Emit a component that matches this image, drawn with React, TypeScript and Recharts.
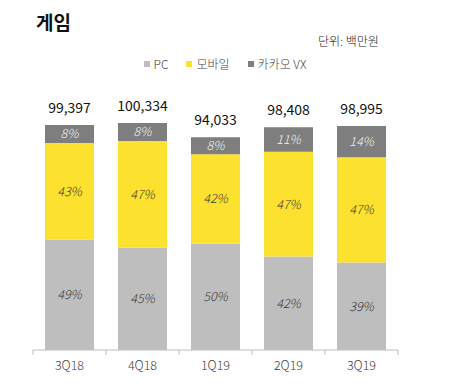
import React from 'react';
import { BarChart, Bar, XAxis, YAxis, LabelList } from 'recharts';

const quarters = ['3Q18', '4Q18', '1Q19', '2Q19', '3Q19'];
const totals = [99397, 100334, 94033, 98408, 98995];
const pcShare = [49, 45, 50, 42, 39];
const mobileShare = [43, 47, 42, 47, 47];
const vxShare = [8, 8, 8, 11, 14];

const seriesNames = ['PC', '모바일', '카카오 VX'];
const seriesColors = ['#BEBEBE', '#FDE12F', '#7E7E7E'];

const FONT = "'Noto Sans CJK KR', 'Noto Sans', sans-serif";

const data = quarters.map((q, i) => ({
  quarter: q,
  total: totals[i],
  pc: (totals[i] * pcShare[i]) / 100,
  mobile: (totals[i] * mobileShare[i]) / 100,
  vx: (totals[i] * vxShare[i]) / 100,
  pcPct: pcShare[i],
  mobilePct: mobileShare[i],
  vxPct: vxShare[i],
}));

const pctLabel = (v: unknown) => `${v}%`;

const CategoryTick = (props: any) => {
  const { x, y, payload, index } = props;
  const half = 36.5;
  return (
    <g>
      <line x1={x - half} y1={y - 8} x2={x - half} y2={y - 3} stroke="#BFBFBF" />
      {index === quarters.length - 1 && (
        <line x1={x + half} y1={y - 8} x2={x + half} y2={y - 3} stroke="#BFBFBF" />
      )}
      <text x={x} y={y + 12} textAnchor="middle" fill="#404040" fontSize={12.5} fontWeight={300} fontFamily={FONT}>
        {payload.value}
      </text>
    </g>
  );
};

export default function App() {
  return (
    <div style={{ position: 'absolute', left: 0, top: 0, width: 450, height: 387, background: '#fff', fontFamily: FONT }}>
      <div style={{ position: 'absolute', left: 36, top: 8, fontSize: 19, fontWeight: 700, color: '#111' }}>게임</div>
      <div style={{ position: 'absolute', left: 318, top: 32, fontSize: 12, fontWeight: 300, color: '#222' }}>단위: 백만원</div>
      <div style={{ position: 'absolute', left: 0, width: 450, top: 55, display: 'flex', justifyContent: 'center', gap: 18, fontSize: 12, fontWeight: 300, color: '#444' }}>
        {seriesNames.map((name, i) => (
          <div key={name} style={{ display: 'flex', alignItems: 'center' }}>
            <span style={{ display: 'inline-block', width: 6, height: 6, background: seriesColors[i], marginRight: 4 }} />
            <span>{name}</span>
          </div>
        ))}
      </div>
      <div style={{ position: 'absolute', left: 0, top: 0 }}>
        <BarChart width={450} height={387} data={data} margin={{ top: 101, right: 52, bottom: 7, left: 33 }} barSize={49}>
          <XAxis
            dataKey="quarter"
            stroke="#BFBFBF"
            tickLine={false}
            height={30}
            tick={<CategoryTick />}
          />
          <YAxis hide domain={[0, 110000]} />
          <Bar dataKey="pc" stackId="a" fill={seriesColors[0]} isAnimationActive={false}>
            <LabelList dataKey="pcPct" position="center" formatter={pctLabel} fill="#3A3A3A" fontSize={12.5} fontWeight={300} fontStyle="italic" fontFamily={FONT} />
          </Bar>
          <Bar dataKey="mobile" stackId="a" fill={seriesColors[1]} isAnimationActive={false}>
            <LabelList dataKey="mobilePct" position="center" formatter={pctLabel} fill="#3A3A3A" fontSize={12.5} fontWeight={300} fontStyle="italic" fontFamily={FONT} />
          </Bar>
          <Bar dataKey="vx" stackId="a" fill={seriesColors[2]} isAnimationActive={false}>
            <LabelList dataKey="vxPct" position="center" formatter={pctLabel} fill="#F2F2F2" fontSize={12.5} fontWeight={300} fontStyle="italic" fontFamily={FONT} />
            <LabelList
              dataKey="total"
              position="top"
              offset={12}
              formatter={(v: unknown) => Number(v).toLocaleString('en-US')}
              fill="#111"
              fontSize={14}
              fontFamily={FONT}
            />
          </Bar>
        </BarChart>
      </div>
    </div>
  );
}
